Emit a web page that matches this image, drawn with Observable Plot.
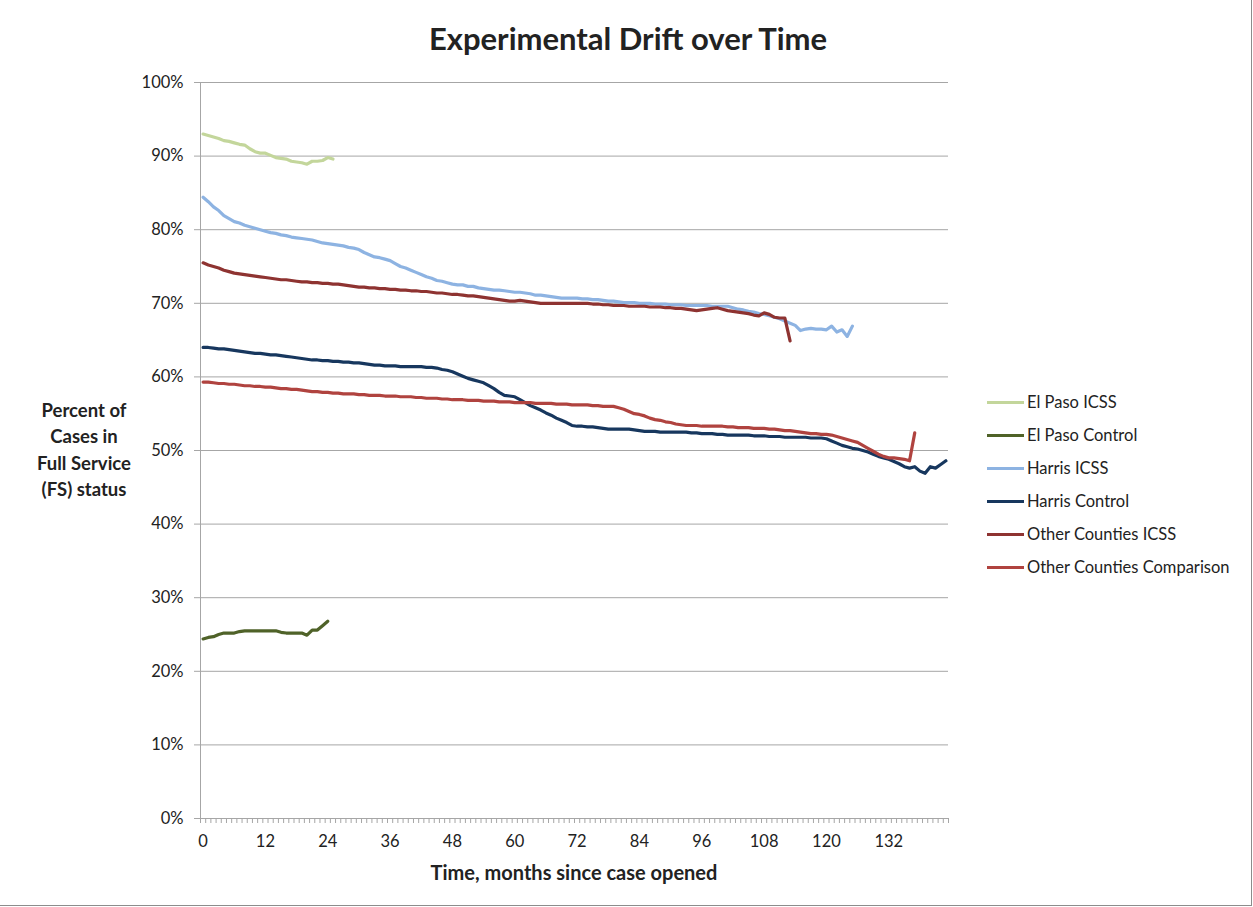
<!DOCTYPE html>
<html>
<head>
<meta charset="utf-8">
<script src="https://cdn.jsdelivr.net/npm/d3@7"></script>
<script src="https://cdn.jsdelivr.net/npm/@observablehq/plot@0.6"></script>
<style>
  html, body { margin: 0; padding: 0; background: #fff; }
  #wrap { position: relative; width: 1251px; height: 905px; border-right: 1px solid #8c8c8c; border-bottom: 1px solid #8c8c8c; overflow: hidden; font-family: Lato, "Open Sans", sans-serif; color: #222; }
  #chart { position: absolute; left: 0; top: 0; }
  .title { position: absolute; left: 0; width: 1256px; top: 19px; text-align: center; font-weight: bold; font-size: 31px; }
  .ytitle { position: absolute; left: 0px; width: 168px; top: 397px; text-align: center; font-weight: bold; font-size: 18.5px; line-height: 26.3px; }
  .xtitle { position: absolute; left: 324px; width: 500px; top: 860px; text-align: center; font-weight: bold; font-size: 20px; }
  .legend { position: absolute; left: 987px; top: 392px; font-size: 16.5px; }
  .legend .row { display: flex; align-items: center; height: 20px; margin-bottom: 13px; white-space: nowrap; }
  .legend .sw { width: 37px; height: 3px; margin-right: 3px; }
</style>
</head>
<body>
<div id="wrap">
  <div id="chart"></div>
  <div class="title">Experimental Drift over Time</div>
  <div class="ytitle">Percent of<br>Cases in<br>Full Service<br>(FS) status</div>
  <div class="xtitle">Time, months since case opened</div>
  <div class="legend" id="legend"></div>
</div>
<script>
// ---- Data (percent, index = months since case opened) ----
const seriesNames = ["El Paso ICSS", "El Paso Control", "Harris ICSS", "Harris Control", "Other Counties ICSS", "Other Counties Comparison"];
const seriesColors = ["#c3d69b", "#4f6228", "#8db3e2", "#17375e", "#8e3331", "#b0433f"];

const elPasoICSS = [93.0, 92.8, 92.6, 92.4, 92.1, 92.0, 91.8, 91.6, 91.5, 91.0, 90.6, 90.4, 90.4, 90.1, 89.8, 89.7, 89.6, 89.3, 89.2, 89.1, 88.9, 89.3, 89.3, 89.4, 89.8, 89.6];

const elPasoControl = [24.4, 24.6, 24.7, 25.0, 25.2, 25.2, 25.2, 25.4, 25.5, 25.5, 25.5, 25.5, 25.5, 25.5, 25.5, 25.3, 25.2, 25.2, 25.2, 25.2, 24.9, 25.6, 25.6, 26.2, 26.8];

const harrisICSS = [84.4, 83.8, 83.1, 82.6, 81.9, 81.5, 81.1, 80.9, 80.6, 80.4,
  80.2, 80.0, 79.8, 79.6, 79.5, 79.3, 79.2, 79.0, 78.9, 78.8,
  78.7, 78.6, 78.4, 78.2, 78.1, 78.0, 77.9, 77.8, 77.6, 77.5,
  77.3, 76.9, 76.6, 76.3, 76.2, 76.0, 75.8, 75.4, 75.0, 74.8,
  74.5, 74.2, 73.9, 73.6, 73.4, 73.1, 73.0, 72.8, 72.6, 72.5,
  72.5, 72.3, 72.3, 72.1, 72.0, 71.9, 71.8, 71.8, 71.7, 71.6,
  71.5, 71.5, 71.4, 71.3, 71.1, 71.1, 71.0, 70.9, 70.8, 70.7,
  70.7, 70.7, 70.7, 70.6, 70.6, 70.5, 70.5, 70.4, 70.3, 70.3,
  70.2, 70.1, 70.1, 70.1, 70.0, 70.0, 70.0, 69.9, 69.9, 69.9,
  69.8, 69.8, 69.8, 69.7, 69.7, 69.7, 69.7, 69.7, 69.6, 69.6,
  69.6, 69.6, 69.4, 69.2, 69.1, 68.9, 68.8, 68.6, 68.5, 68.3,
  68.1, 67.9, 67.6, 67.3, 67.0, 66.3, 66.5, 66.6, 66.5, 66.5,
  66.4, 66.9, 66.1, 66.4, 65.5, 66.9];

const harrisControl = [64.0, 64.0, 63.9, 63.8, 63.8, 63.7, 63.6, 63.5, 63.4, 63.3,
  63.2, 63.2, 63.1, 63.0, 63.0, 62.9, 62.8, 62.7, 62.6, 62.5,
  62.4, 62.3, 62.3, 62.2, 62.2, 62.1, 62.1, 62.0, 62.0, 61.9,
  61.9, 61.8, 61.7, 61.6, 61.6, 61.5, 61.5, 61.5, 61.4, 61.4,
  61.4, 61.4, 61.4, 61.3, 61.3, 61.2, 61.0, 60.9, 60.7, 60.4,
  60.1, 59.8, 59.6, 59.4, 59.2, 58.8, 58.4, 57.9, 57.5, 57.4,
  57.3, 56.9, 56.5, 56.1, 55.8, 55.5, 55.1, 54.8, 54.4, 54.1,
  53.8, 53.4, 53.3, 53.3, 53.2, 53.2, 53.1, 53.0, 52.9, 52.9,
  52.9, 52.9, 52.9, 52.8, 52.7, 52.6, 52.6, 52.6, 52.5, 52.5,
  52.5, 52.5, 52.5, 52.5, 52.4, 52.4, 52.3, 52.3, 52.3, 52.2,
  52.2, 52.1, 52.1, 52.1, 52.1, 52.1, 52.0, 52.0, 52.0, 51.9,
  51.9, 51.9, 51.8, 51.8, 51.8, 51.8, 51.8, 51.7, 51.7, 51.7,
  51.6, 51.3, 51.0, 50.7, 50.5, 50.3, 50.2, 50.0, 49.8, 49.5,
  49.2, 49.0, 48.8, 48.5, 48.2, 47.8, 47.6, 47.8, 47.2, 46.9,
  47.8, 47.6, 48.1, 48.6];

const otherICSS = [75.5, 75.2, 75.0, 74.8, 74.5, 74.3, 74.1, 74.0, 73.9, 73.8,
  73.7, 73.6, 73.5, 73.4, 73.3, 73.2, 73.2, 73.1, 73.0, 72.9,
  72.9, 72.8, 72.8, 72.7, 72.7, 72.6, 72.6, 72.5, 72.4, 72.3,
  72.2, 72.2, 72.1, 72.1, 72.0, 72.0, 71.9, 71.9, 71.8, 71.8,
  71.7, 71.7, 71.6, 71.6, 71.5, 71.4, 71.4, 71.3, 71.2, 71.2,
  71.1, 71.0, 71.0, 70.9, 70.8, 70.7, 70.6, 70.5, 70.4, 70.3,
  70.3, 70.4, 70.3, 70.2, 70.1, 70.0, 70.0, 70.0, 70.0, 70.0,
  70.0, 70.0, 70.0, 70.0, 70.0, 69.9, 69.9, 69.8, 69.8, 69.7,
  69.7, 69.7, 69.6, 69.6, 69.6, 69.6, 69.5, 69.5, 69.5, 69.4,
  69.4, 69.3, 69.3, 69.2, 69.1, 69.0, 69.1, 69.2, 69.3, 69.4,
  69.2, 69.0, 68.9, 68.8, 68.7, 68.6, 68.4, 68.3, 68.7, 68.5,
  68.1, 68.0, 68.0, 64.9];

const otherComparison = [59.3, 59.3, 59.2, 59.1, 59.1, 59.0, 59.0, 58.9, 58.8, 58.8,
  58.7, 58.7, 58.6, 58.6, 58.5, 58.4, 58.4, 58.3, 58.3, 58.2,
  58.1, 58.0, 58.0, 57.9, 57.9, 57.8, 57.8, 57.7, 57.7, 57.7,
  57.6, 57.6, 57.5, 57.5, 57.5, 57.4, 57.4, 57.4, 57.3, 57.3,
  57.3, 57.2, 57.2, 57.1, 57.1, 57.1, 57.0, 57.0, 56.9, 56.9,
  56.9, 56.8, 56.8, 56.8, 56.7, 56.7, 56.7, 56.6, 56.6, 56.6,
  56.5, 56.5, 56.5, 56.5, 56.4, 56.4, 56.4, 56.4, 56.3, 56.3,
  56.3, 56.2, 56.2, 56.2, 56.2, 56.1, 56.1, 56.0, 56.0, 56.0,
  55.8, 55.6, 55.3, 55.0, 54.9, 54.7, 54.4, 54.2, 54.1, 53.9,
  53.8, 53.6, 53.5, 53.4, 53.4, 53.4, 53.3, 53.3, 53.3, 53.3,
  53.3, 53.2, 53.2, 53.1, 53.1, 53.1, 53.0, 53.0, 53.0, 52.9,
  52.9, 52.8, 52.7, 52.7, 52.6, 52.5, 52.4, 52.3, 52.3, 52.2,
  52.2, 52.1, 51.9, 51.7, 51.5, 51.3, 51.1, 50.7, 50.3, 49.9,
  49.5, 49.2, 49.0, 49.0, 48.9, 48.8, 48.6, 52.4];

const yTickValues = [0, 0.1, 0.2, 0.3, 0.4, 0.5, 0.6, 0.7, 0.8, 0.9, 1.0];
const xTickLabels = [0, 12, 24, 36, 48, 60, 72, 84, 96, 108, 120, 132];
const monthCount = 144;

// ---- Build long table ----
const seriesValues = [elPasoICSS, elPasoControl, harrisICSS, harrisControl, otherICSS, otherComparison];
const rows = [];
seriesValues.forEach((vals, si) => {
  vals.forEach((v, m) => rows.push({series: seriesNames[si], month: m, value: v / 100}));
});
const boundaries = d3.range(monthCount + 1).map(i => i - 0.5);

const grid = "#a6a6a6";
const chart = Plot.plot({
  width: 1251,
  height: 905,
  marginLeft: 200,
  marginRight: 303,
  marginTop: 82,
  marginBottom: 87,
  style: {fontFamily: "Lato, 'Open Sans', sans-serif", fontSize: "16.5px", color: "#222", background: "transparent"},
  x: {domain: [-0.5, monthCount - 0.5], axis: null, label: null},
  y: {domain: [0, 1], axis: null, label: null},
  color: {domain: seriesNames, range: seriesColors},
  marks: [
    Plot.ruleY(yTickValues.slice(1), {stroke: grid, strokeWidth: 1}),
    Plot.ruleY([0], {stroke: grid, strokeWidth: 1}),
    Plot.ruleX([-0.5], {stroke: grid, strokeWidth: 1}),
    Plot.axisX({ticks: boundaries, tickSize: 5, tickFormat: () => "", stroke: grid, label: null}),
    Plot.axisX({ticks: xTickLabels, tickSize: 0, tickPadding: 17, fontSize: 16.5, fill: "#222", label: null}),
    Plot.axisY({ticks: yTickValues, tickSize: 6, tickPadding: 11, tickFormat: d3.format(".0%"), stroke: grid, fontSize: 16.5, fill: "#222", label: null}),
    Plot.line(rows, {x: "month", y: "value", z: "series", stroke: "series", strokeWidth: 3.2, strokeLinejoin: "round", strokeLinecap: "round"})
  ]
});
document.getElementById("chart").appendChild(chart);

// ---- Legend ----
const legend = document.getElementById("legend");
seriesNames.forEach((name, i) => {
  const row = document.createElement("div");
  row.className = "row";
  const sw = document.createElement("div");
  sw.className = "sw";
  sw.style.background = seriesColors[i];
  const t = document.createElement("span");
  t.textContent = name;
  row.appendChild(sw);
  row.appendChild(t);
  legend.appendChild(row);
});
</script>
</body>
</html>
